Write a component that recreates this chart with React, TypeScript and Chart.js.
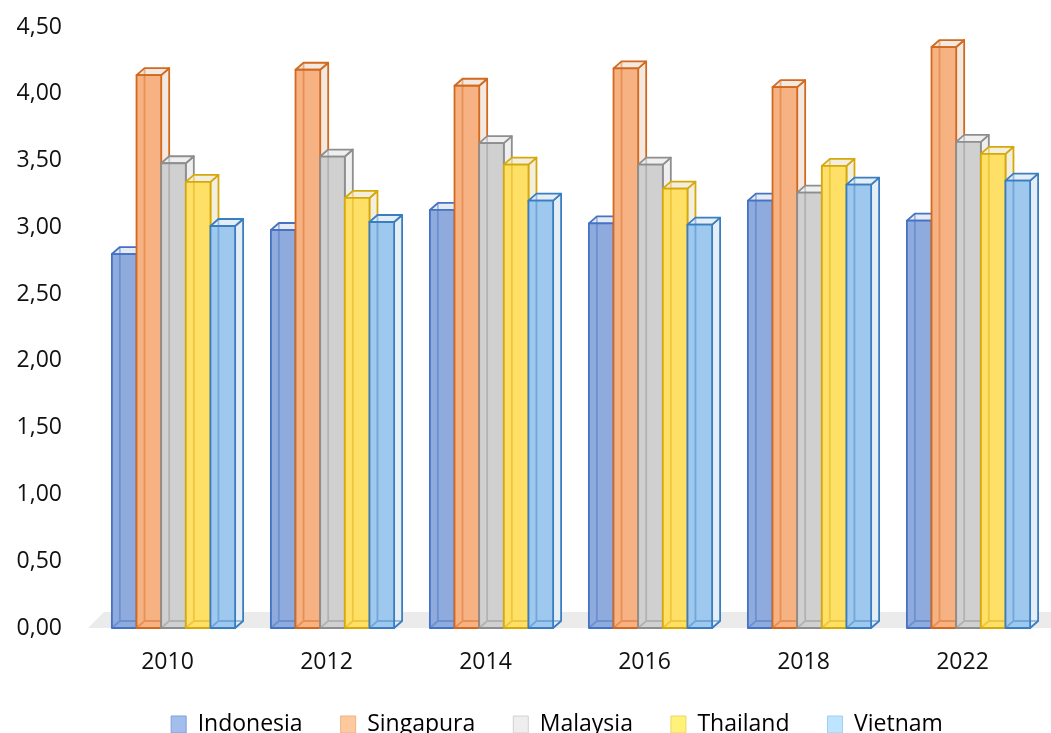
import React, { useEffect, useRef } from "react";
import { Chart, registerables } from "chart.js";

Chart.register(...registerables);

const categories = ["2010", "2012", "2014", "2016", "2018", "2022"];
const seriesNames = ["Indonesia", "Singapura", "Malaysia", "Thailand", "Vietnam"];
const indonesia = [2.8, 2.98, 3.13, 3.03, 3.2, 3.05];
const singapura = [4.14, 4.18, 4.06, 4.19, 4.05, 4.35];
const malaysia = [3.48, 3.53, 3.63, 3.47, 3.26, 3.64];
const thailand = [3.34, 3.22, 3.47, 3.29, 3.46, 3.55];
const vietnam = [3.01, 3.04, 3.2, 3.02, 3.32, 3.35];
const yTicks = [0, 0.5, 1, 1.5, 2, 2.5, 3, 3.5, 4, 4.5];

const frontColors = ["#8FAADC", "#F7B283", "#D0D0D0", "#FFE066", "#9FC8EE"];
const borderColors = ["#4472C4", "#D2691E", "#8E8E8E", "#D6A80A", "#3A7EC2"];
const sideColors = ["#E6EBF3", "#F3E9E1", "#EFEFEF", "#F3EFE0", "#E6EEF5"];
const legendFill = ["#A3BEEC", "#FFC9A0", "#EEEEEE", "#FFF27A", "#BEE5FF"];
const legendStroke = ["#7F9FD8", "#F0B080", "#D2D2D2", "#E8D860", "#A0D0F0"];

const DX = 8;
const DY = -7;
const SHIFT = 6;
const LEGEND_SHIFT = 36;
const FONT = "'Open Sans', 'DejaVu Sans', sans-serif";

const bar3d = {
  id: "bar3d",
  afterLayout(chart: any) {
    if (chart.legend) {
      chart.legend.left += LEGEND_SHIFT;
      chart.legend.right += LEGEND_SHIFT;
    }
  },
  beforeDatasetsDraw(chart: any) {
    const ctx = chart.ctx;
    const { left, bottom } = chart.chartArea;
    ctx.save();
    ctx.fillStyle = "#EBEBEB";
    ctx.beginPath();
    ctx.moveTo(left, bottom);
    ctx.lineTo(left + 16, bottom - 16);
    ctx.lineTo(chart.width, bottom - 16);
    ctx.lineTo(chart.width, bottom);
    ctx.closePath();
    ctx.fill();
    ctx.lineWidth = 1.8;
    ctx.lineJoin = "round";
    const n = chart.data.labels.length;
    const dsCount = chart.data.datasets.length;
    for (let j = 0; j < n; j++) {
      for (let i = 0; i < dsCount; i++) {
        const el = chart.getDatasetMeta(i).data[j];
        if (!el) continue;
        const { x, y, base, width } = el.getProps(["x", "y", "base", "width"], true);
        const l = x - width / 2 + SHIFT;
        const r = x + width / 2 + SHIFT;
        ctx.strokeStyle = borderColors[i];
        // side face
        ctx.fillStyle = sideColors[i];
        ctx.beginPath();
        ctx.moveTo(r, y);
        ctx.lineTo(r + DX, y + DY);
        ctx.lineTo(r + DX, base + DY);
        ctx.lineTo(r, base);
        ctx.closePath();
        ctx.fill();
        ctx.stroke();
        // top face
        ctx.beginPath();
        ctx.moveTo(l, y);
        ctx.lineTo(l + DX, y + DY);
        ctx.lineTo(r + DX, y + DY);
        ctx.lineTo(r, y);
        ctx.closePath();
        ctx.fill();
        ctx.stroke();
        // front face
        ctx.fillStyle = frontColors[i];
        ctx.fillRect(l, y, r - l, base - y);
        // inner back edges
        ctx.save();
        ctx.globalAlpha = 0.45;
        ctx.beginPath();
        ctx.moveTo(l + DX, y + DY);
        ctx.lineTo(l + DX, base + DY);
        ctx.lineTo(r + DX, base + DY);
        ctx.moveTo(l, base);
        ctx.lineTo(l + DX, base + DY);
        ctx.stroke();
        ctx.restore();
        ctx.strokeRect(l, y, r - l, base - y);
      }
    }
    ctx.restore();
    return false;
  },
};

export default function App() {
  const ref = useRef<HTMLCanvasElement | null>(null);
  useEffect(() => {
    if (!ref.current) return;
    const values = [indonesia, singapura, malaysia, thailand, vietnam];
    const chart = new Chart(ref.current, {
      type: "bar",
      data: {
        labels: categories,
        datasets: values.map((v, i) => ({
          label: seriesNames[i],
          data: v,
          backgroundColor: frontColors[i],
          borderColor: borderColors[i],
          borderWidth: 1,
          categoryPercentage: 0.775,
          barPercentage: 1,
        })),
      },
      options: {
        animation: false,
        responsive: true,
        maintainAspectRatio: false,
        layout: { padding: { top: 27, right: 9, left: 0, bottom: 0 } },
        plugins: {
          tooltip: { enabled: false },
          legend: {
            position: "bottom",
            labels: {
              font: { family: FONT, size: 23 },
              color: "#111",
              boxWidth: 15,
              boxHeight: 17,
              padding: 38,
              generateLabels: () =>
                seriesNames.map((name, i) => ({
                  text: name,
                  fillStyle: legendFill[i],
                  strokeStyle: legendStroke[i],
                  lineWidth: 1,
                  datasetIndex: i,
                  hidden: false,
                })),
            },
          },
        },
        scales: {
          x: {
            grid: { display: false, drawTicks: false },
            border: { display: false },
            ticks: { font: { family: FONT, size: 23 }, color: "#111", padding: 21 },
            afterFit: (s: any) => {
              s.height = 47;
            },
          },
          y: {
            min: 0,
            max: 4.5,
            grid: { display: false, drawTicks: false },
            border: { display: false },
            afterBuildTicks: (s: any) => {
              s.ticks = yTicks.map((v) => ({ value: v }));
            },
            ticks: {
              font: { family: FONT, size: 23 },
              color: "#111",
              padding: 26,
              callback: (v: any) => Number(v).toFixed(2).replace(".", ","),
            },
            afterFit: (s: any) => {
              s.width = 88;
              s.paddingTop = 0;
              s.paddingBottom = 0;
            },
          },
        },
      },
      plugins: [bar3d],
    });
    return () => chart.destroy();
  }, []);
  return (
    <div style={{ position: "absolute", left: 0, top: 0, width: 1051, height: 746, background: "#fff" }}>
      <canvas ref={ref} />
    </div>
  );
}
